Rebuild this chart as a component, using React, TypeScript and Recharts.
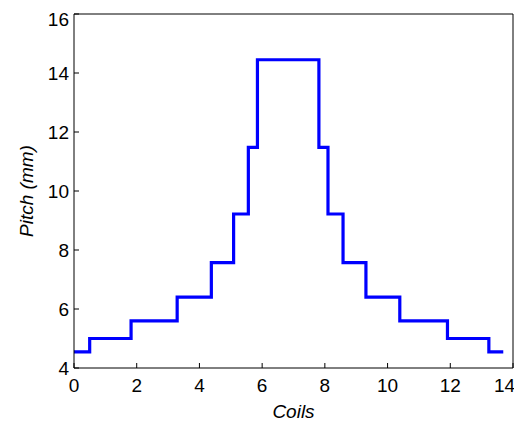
import React from 'react';
import { LineChart, Line, XAxis, YAxis, Label } from 'recharts';

// coil position where each pitch step starts, and the pitch on that step
const coilStarts = [0, 0.5, 1.82, 3.29, 4.38, 5.09, 5.56, 5.85, 7.81, 8.1, 8.58, 9.31, 10.39, 11.91, 13.23, 13.69];
const pitchValues = [4.55, 5.0, 5.6, 6.4, 7.57, 9.22, 11.48, 14.45, 11.48, 9.22, 7.57, 6.4, 5.6, 5.0, 4.55, 4.55];

const xTicks = [0, 2, 4, 6, 8, 10, 12, 14];
const yTicks = [4, 6, 8, 10, 12, 14, 16];

const data = coilStarts.map((c, i) => ({ coil: c, pitch: pitchValues[i] }));

const FONT = 'Liberation Sans, Arial, sans-serif';
const tickFont = { fontFamily: FONT, fontSize: 19, fill: '#000' };
const axisLine = { stroke: '#000', strokeWidth: 1 };

export default function App() {
  // absolute so the slightly oversized chart does not add scrollbars
  return (
    <div style={{ position: 'absolute', left: 8, top: 8, width: 506, height: 413, background: '#fff', fontFamily: FONT }}>
      <LineChart
        width={506}
        height={413}
        data={data}
        margin={{ top: 5, right: 0, bottom: 0, left: 16 }}
        style={{ overflow: 'visible' }}
      >
        <XAxis
          dataKey="coil"
          type="number"
          domain={[0, 14]}
          ticks={xTicks}
          allowDataOverflow
          tickSize={-5}
          tickMargin={16}
          fontSize={19}
          tick={tickFont}
          axisLine={axisLine}
          tickLine={axisLine}
          height={53}
        >
          <Label value="Coils" position="insideBottom" offset={3} style={{ fontFamily: FONT, fontSize: 19, fontStyle: 'italic', fill: '#000' }} />
        </XAxis>
        <XAxis
          xAxisId="top"
          dataKey="coil"
          type="number"
          orientation="top"
          domain={[0, 14]}
          ticks={xTicks}
          allowDataOverflow
          tickSize={-5}
          tick={false}
          axisLine={axisLine}
          tickLine={axisLine}
          height={1}
        />
        <YAxis
          type="number"
          domain={[4, 16]}
          ticks={yTicks}
          allowDataOverflow
          tickSize={-5}
          tickMargin={10}
          fontSize={19}
          tick={tickFont}
          axisLine={axisLine}
          tickLine={axisLine}
          width={50}
        >
          <Label
            value="Pitch (mm)"
            angle={-90}
            position="insideLeft"
            offset={2}
            style={{ fontFamily: FONT, fontSize: 19, fontStyle: 'italic', fill: '#000', textAnchor: 'middle' }}
          />
        </YAxis>
        <YAxis
          yAxisId="right"
          type="number"
          orientation="right"
          domain={[4, 16]}
          ticks={yTicks}
          allowDataOverflow
          tickSize={-5}
          tick={false}
          axisLine={axisLine}
          tickLine={axisLine}
          width={1}
        />
        <Line
          type="stepAfter"
          dataKey="pitch"
          stroke="#0000ff"
          strokeWidth={3.2}
          dot={false}
          isAnimationActive={false}
        />
        <Line
          xAxisId="top"
          yAxisId="right"
          type="stepAfter"
          dataKey="pitch"
          stroke="transparent"
          strokeWidth={0}
          dot={false}
          legendType="none"
          isAnimationActive={false}
        />
      </LineChart>
    </div>
  );
}
